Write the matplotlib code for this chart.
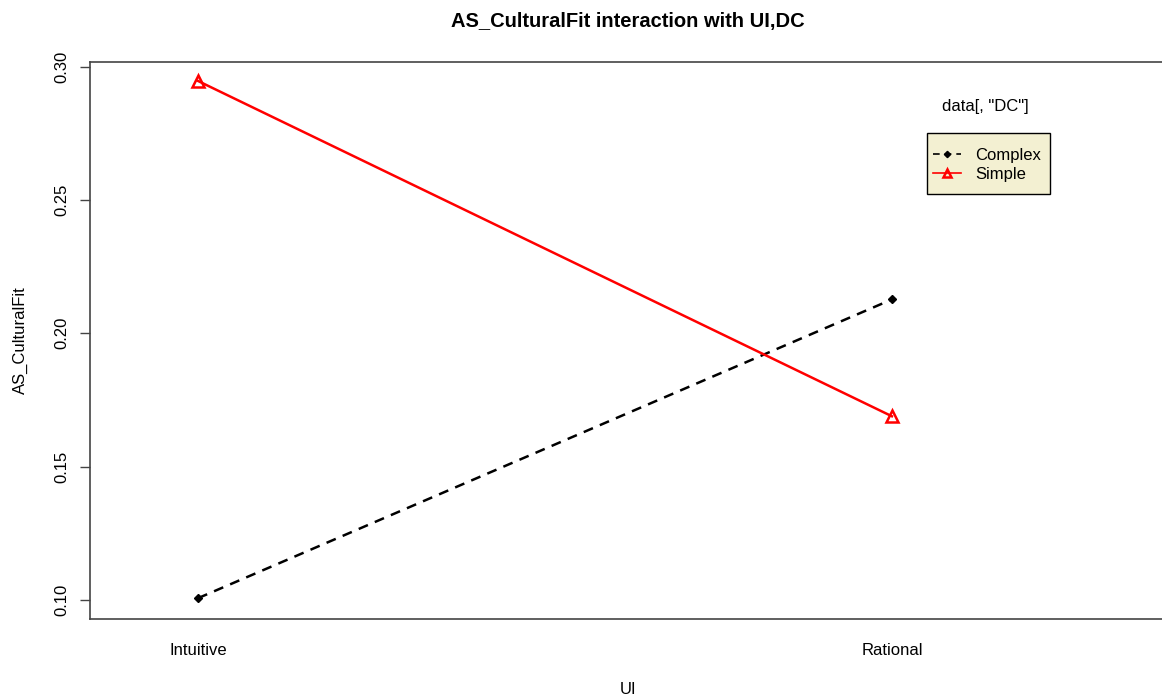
import matplotlib.pyplot as plt
from matplotlib.patches import Rectangle
import numpy as np

plt.rcParams['font.family'] = ['Liberation Sans', 'DejaVu Sans']

# data
ui_levels = ["Intuitive", "Rational"]
dc_levels = ["Complex", "Simple"]
complex_vals = [0.1007, 0.2127]
simple_vals = [0.2946, 0.1689]
y_ticks = [0.10, 0.15, 0.20, 0.25, 0.30]

fig = plt.figure(figsize=(11.62, 6.99), dpi=100)
ax = fig.add_axes([90/1162, 1 - 619/699, 1076/1162, 557/699])

x = np.arange(1, len(ui_levels) + 1)
ax.plot(x, complex_vals, color='black', linestyle=(0, (4, 3)), linewidth=1.8,
        marker='D', markersize=4, label=dc_levels[0])
ax.plot(x, simple_vals, color='red', linestyle='-', linewidth=1.8,
        marker='^', markersize=8, markerfacecolor='none', markeredgewidth=1.8,
        label=dc_levels[1])

ax.set_xlim(0.8444, 2.395)
ax.set_ylim(0.0929, 0.3017)
ax.set_xticks(x)
ax.set_xticklabels(ui_levels, fontsize=12)
ax.tick_params(axis='x', length=0, pad=17)
ax.set_yticks(y_ticks)
ax.set_yticklabels(["%.2f" % v for v in y_ticks], fontsize=12, rotation=90, va='center')
ax.tick_params(axis='y', length=7, width=1, color='#444444', pad=8)
for s in ax.spines.values():
    s.set_color('#444444')
    s.set_linewidth(1.2)

ax.set_title("AS_CulturalFit interaction with UI,DC", fontsize=14.5, fontweight='bold', pad=25)
fig.text(628/1162, 1 - 690/699, "UI", fontsize=12, ha='center', va='center')
fig.text(20/1162, 1 - 340/699, "AS_CulturalFit", fontsize=12, ha='center', va='center',
         rotation=90)

# legend: title above, box drawn by hand
fig.text(985/1162, 1 - 107/699, 'data[, "DC"]', fontsize=12, ha='center', va='center')
box = Rectangle((927/1162, 1 - 194/699), 123/1162, 61/699, transform=fig.transFigure,
                facecolor='#f3f0d2', edgecolor='black', linewidth=1.0,
                zorder=4, clip_on=False)
ax.add_patch(box)
leg = ax.legend(loc='upper left', bbox_to_anchor=(933/1162, 1 - 148/699),
                bbox_transform=fig.transFigure, fontsize=12, frameon=False,
                handlelength=1.65, handletextpad=0.9,
                borderpad=0, labelspacing=0.25, borderaxespad=0,
                markerscale=0.8)
leg.set_zorder(5)
for h in leg.get_lines():
    h.set_linewidth(1.2)

fig.savefig("out.png", dpi=100)
